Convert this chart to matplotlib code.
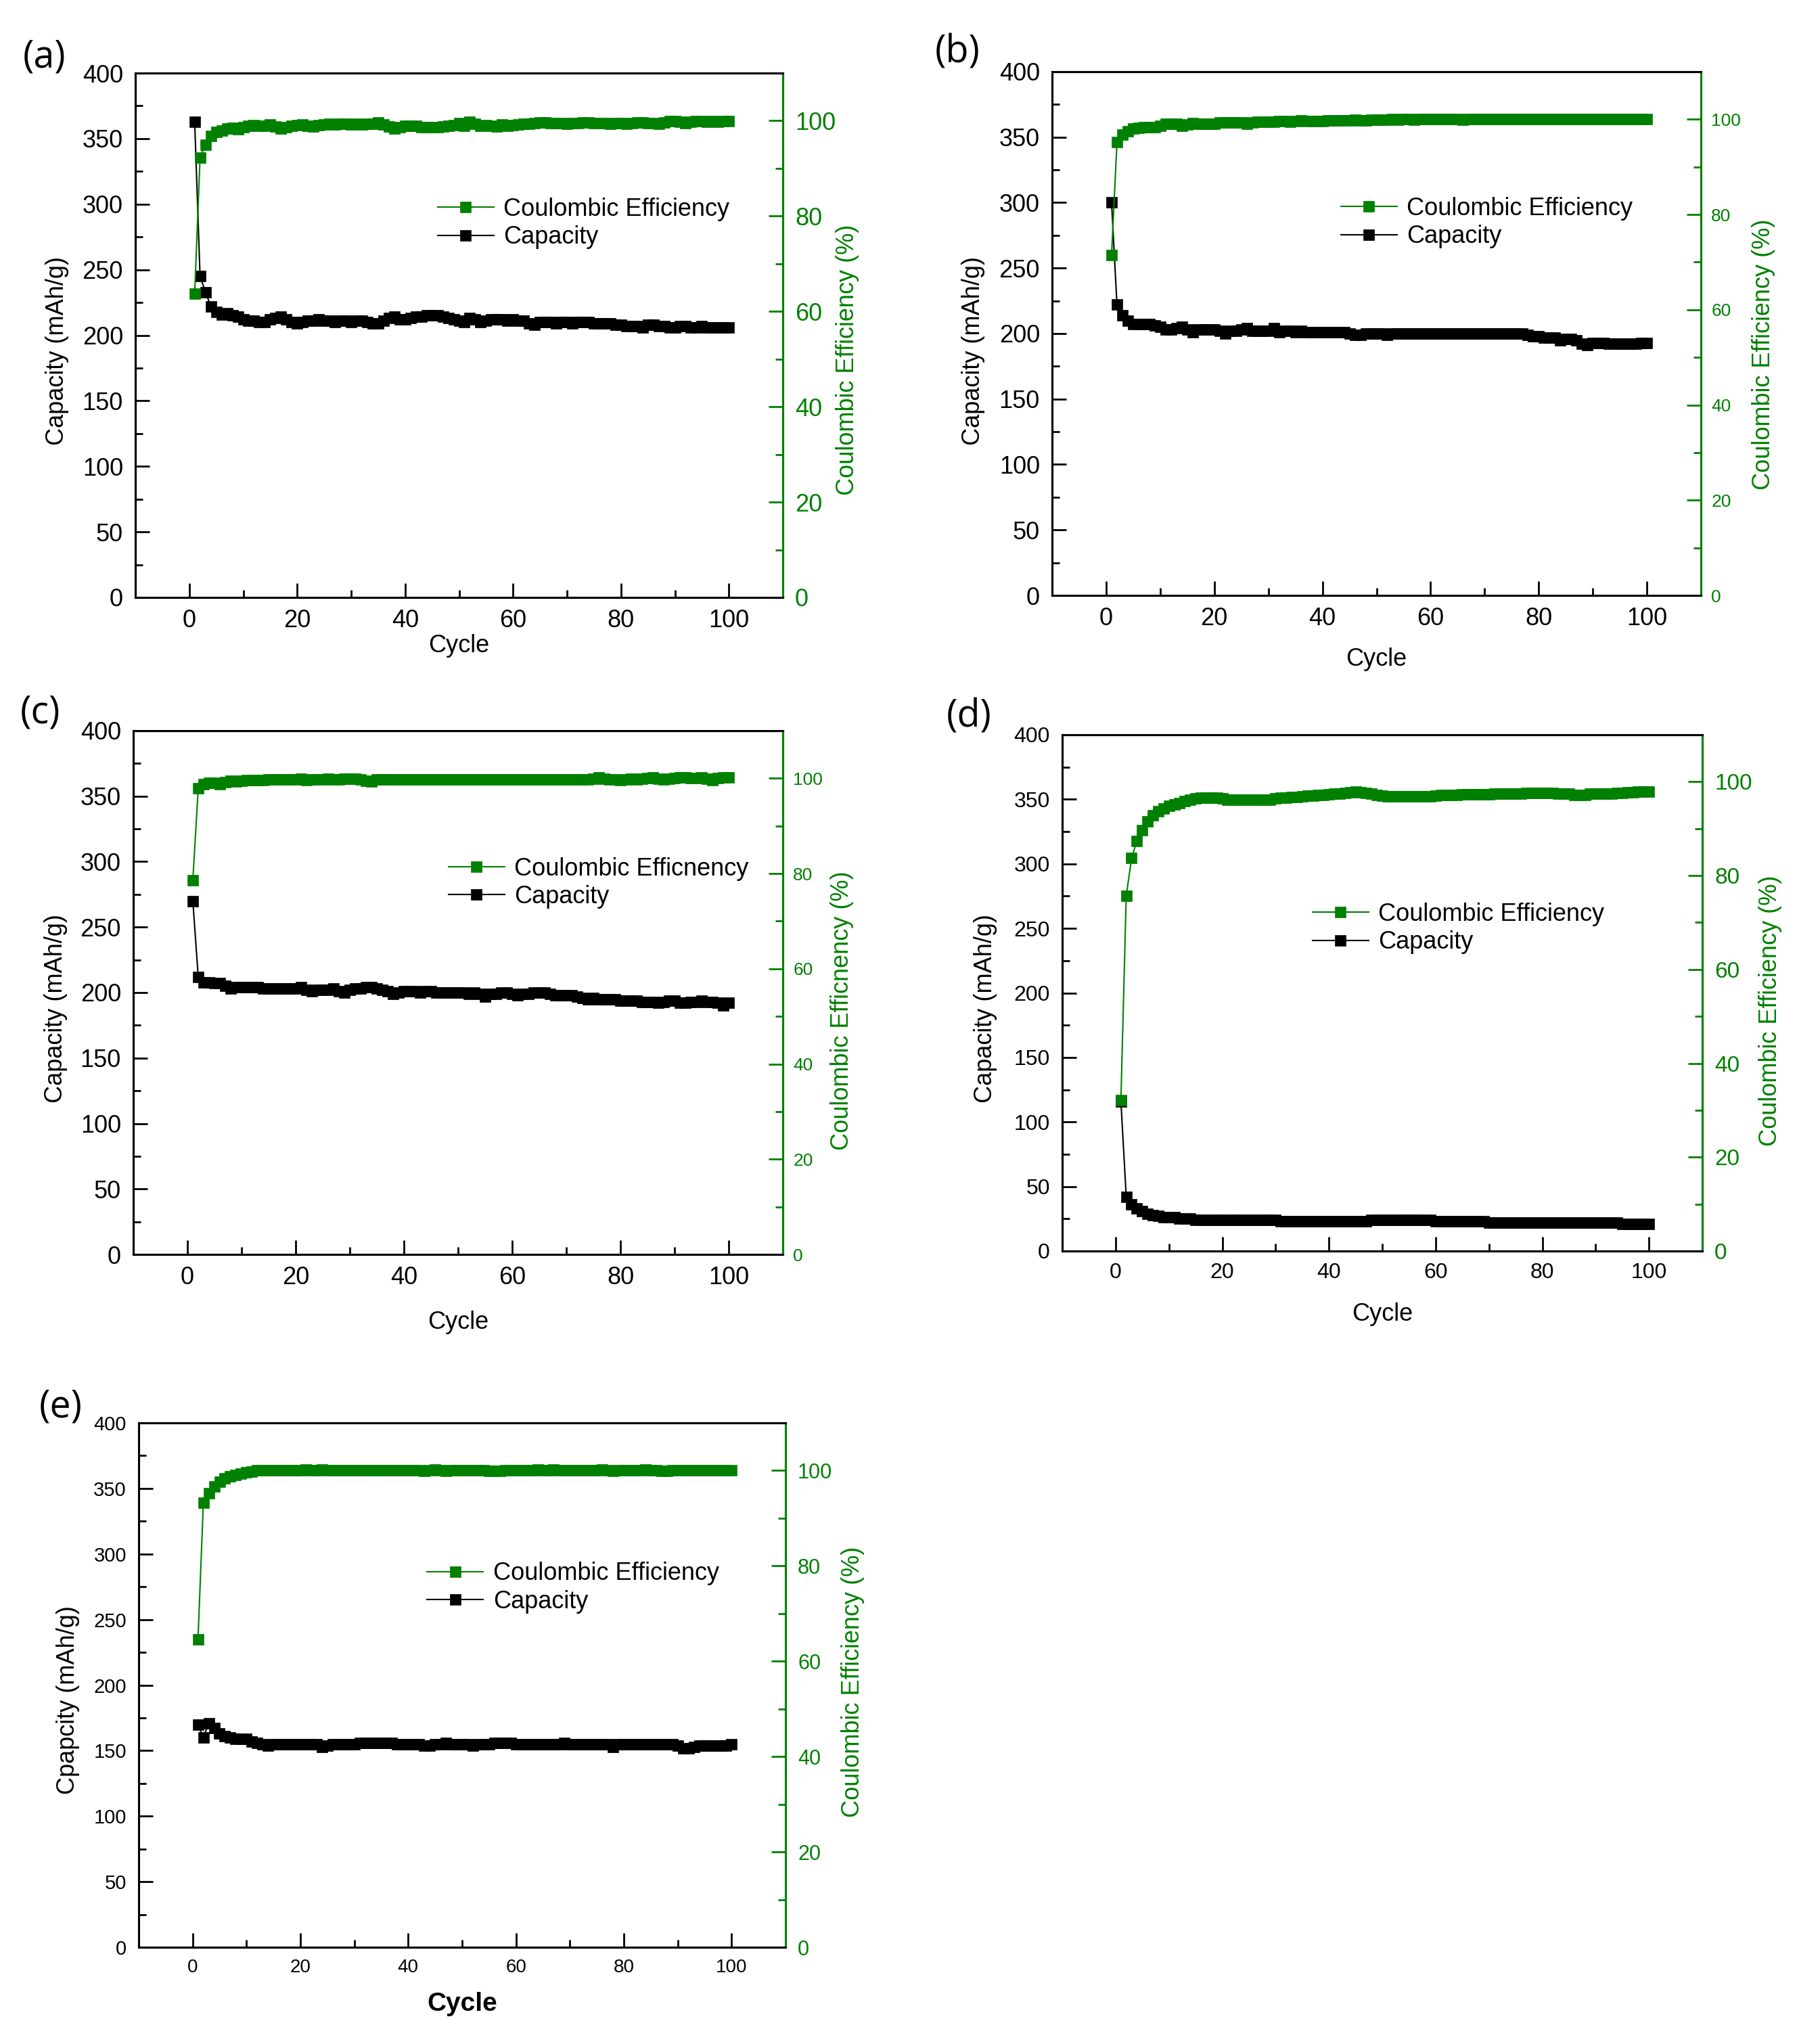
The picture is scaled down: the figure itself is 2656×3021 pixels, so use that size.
import matplotlib
matplotlib.use('Agg')
import matplotlib.pyplot as plt
from matplotlib.ticker import MultipleLocator

plt.rcParams['font.family'] = ['Liberation Sans', 'DejaVu Sans']

cycles = list(range(1, 101))

# (a)
cap_a = [363, 245, 233, 222, 218, 216, 217, 215, 214, 212,
         211, 211, 210, 210, 212, 213, 214, 212, 210, 209,
         210, 211, 211, 212, 211, 211, 210, 211, 211, 210,
         211, 211, 210, 209, 209, 211, 213, 214, 212, 212,
         213, 214, 214, 215, 215, 215, 214, 213, 212, 211,
         210, 213, 212, 210, 211, 212, 212, 212, 211, 212,
         211, 211, 209, 208, 210, 210, 210, 209, 210, 210,
         209, 210, 210, 210, 209, 209, 209, 209, 208, 208,
         207, 207, 207, 206, 208, 208, 207, 207, 206, 206,
         207, 207, 206, 206, 207, 206, 206, 206, 206, 206]
ce_a = [63.8, 92.3, 95.0, 96.8, 97.6, 98.0, 98.3, 98.5, 98.2, 98.6,
        98.9, 99.1, 99.0, 98.9, 99.2, 98.8, 98.4, 98.7, 99.0, 99.1,
        99.2, 99.0, 98.8, 99.1, 99.2, 99.3, 99.2, 99.3, 99.3, 99.2,
        99.3, 99.2, 99.3, 99.4, 99.6, 99.2, 98.8, 98.3, 98.7, 99.0,
        98.9, 98.9, 98.7, 98.6, 98.7, 98.6, 98.8, 98.9, 99.1, 99.5,
        99.0, 99.8, 99.3, 99.0, 99.1, 99.0, 98.8, 99.2, 99.0, 99.1,
        99.2, 99.3, 99.4, 99.5, 99.6, 99.6, 99.5, 99.5, 99.5, 99.4,
        99.5, 99.5, 99.6, 99.6, 99.5, 99.5, 99.5, 99.4, 99.5, 99.5,
        99.4, 99.5, 99.6, 99.6, 99.5, 99.5, 99.4, 99.7, 99.9, 99.9,
        99.8, 99.5, 99.8, 99.9, 99.9, 99.8, 99.9, 99.8, 99.9, 99.9]

# (b)
cap_b = [300, 222, 214, 210, 207, 207, 207, 207, 206, 205,
         203, 203, 204, 205, 203, 201, 203, 203, 203, 203,
         202, 200, 202, 202, 203, 204, 202, 202, 202, 202,
         204, 201, 202, 202, 201, 202, 201, 201, 201, 201,
         201, 201, 201, 201, 200, 199, 199, 200, 200, 200,
         200, 199, 200, 200, 200, 200, 200, 200, 200, 200,
         200, 200, 200, 200, 200, 200, 200, 200, 200, 200,
         200, 200, 200, 200, 200, 200, 200, 199, 198, 198,
         197, 197, 197, 195, 196, 196, 195, 192, 191, 193,
         193, 193, 192, 192, 192, 192, 192, 192, 193, 193]
ce_b = [71.5, 95.2, 96.8, 97.5, 98.0, 98.2, 98.3, 98.3, 98.4, 98.6,
        99.0, 99.1, 99.0, 98.7, 98.9, 99.2, 99.1, 99.0, 99.1, 99.1,
        99.3, 99.4, 99.4, 99.4, 99.3, 99.0, 99.4, 99.5, 99.5, 99.5,
        99.5, 99.6, 99.6, 99.5, 99.6, 99.8, 99.6, 99.6, 99.6, 99.6,
        99.8, 99.8, 99.7, 99.8, 99.8, 99.9, 99.8, 99.8, 99.9, 99.9,
        99.9, 99.9, 100.0, 99.9, 100.0, 100.0, 99.9, 100.0, 100.0, 100.0,
        100.0, 100.0, 100.0, 100.0, 100.0, 99.9, 100.0, 100.0, 100.0, 100.0,
        100.0, 100.0, 100.0, 100.0, 100.0, 100.0, 100.0, 100.0, 100.0, 100.0,
        100.0, 100.0, 100.0, 100.0, 100.0, 100.0, 100.0, 100.0, 100.0, 100.0,
        100.0, 100.0, 100.0, 100.0, 100.0, 100.0, 100.0, 100.0, 100.0, 100.0]

# (c)
cap_c = [270, 212, 208, 208, 207, 207, 205, 203, 204, 204,
         204, 204, 204, 203, 203, 203, 203, 203, 203, 203,
         204, 202, 201, 202, 202, 202, 203, 201, 200, 202,
         203, 203, 204, 204, 203, 202, 201, 199, 200, 201,
         201, 201, 200, 201, 201, 200, 200, 200, 200, 200,
         200, 199, 200, 199, 197, 199, 199, 200, 200, 199,
         198, 199, 199, 200, 200, 200, 199, 198, 198, 198,
         198, 197, 196, 195, 196, 195, 195, 195, 195, 194,
         194, 194, 194, 193, 193, 193, 192, 193, 194, 194,
         192, 192, 193, 193, 194, 193, 193, 192, 190, 192]
ce_c = [78.6, 97.9, 98.8, 99.1, 99.1, 98.8, 99.2, 99.5, 99.4, 99.5,
        99.6, 99.6, 99.6, 99.6, 99.7, 99.8, 99.8, 99.7, 99.8, 99.8,
        99.9, 99.6, 99.7, 99.8, 99.8, 99.9, 99.8, 99.8, 99.9, 99.9,
        99.9, 99.8, 99.5, 99.4, 99.7, 99.8, 99.8, 99.8, 99.8, 99.8,
        99.8, 99.8, 99.8, 99.8, 99.8, 99.8, 99.8, 99.8, 99.8, 99.8,
        99.8, 99.8, 99.8, 99.8, 99.8, 99.8, 99.8, 99.8, 99.8, 99.8,
        99.8, 99.8, 99.8, 99.8, 99.8, 99.8, 99.8, 99.8, 99.8, 99.8,
        99.8, 99.8, 99.8, 99.8, 99.9, 100.2, 99.9, 99.8, 99.7, 99.6,
        99.8, 99.9, 99.8, 99.9, 100.1, 100.2, 99.9, 99.8, 99.9, 100.0,
        100.2, 100.2, 100.1, 100.0, 100.2, 99.9, 99.6, 100.0, 100.2, 100.2]

# (d)
cap_d = [116, 42, 36, 33, 31, 29, 28, 27, 26, 26,
         26, 25, 25, 25, 24, 24, 24, 24, 24, 24,
         24, 24, 24, 24, 24, 24, 24, 24, 24, 24,
         23, 23, 23, 23, 23, 23, 23, 23, 23, 23,
         23, 23, 23, 23, 23, 23, 23, 24, 24, 24,
         24, 24, 24, 24, 24, 24, 24, 24, 24, 23,
         23, 23, 23, 23, 23, 23, 23, 23, 23, 22,
         22, 22, 22, 22, 22, 22, 22, 22, 22, 22,
         22, 22, 22, 22, 22, 22, 22, 22, 22, 22,
         22, 22, 22, 22, 21, 21, 21, 21, 21, 21]
ce_d = [32.1, 75.7, 83.7, 87.4, 89.7, 91.6, 92.8, 93.7, 94.3, 94.8,
        95.1, 95.5, 95.9, 96.2, 96.5, 96.6, 96.6, 96.6, 96.6, 96.5,
        96.2, 96.1, 96.1, 96.1, 96.1, 96.1, 96.1, 96.1, 96.2, 96.4,
        96.6, 96.6, 96.7, 96.8, 96.9, 97.0, 97.0, 97.1, 97.2, 97.3,
        97.4, 97.5, 97.6, 97.7, 97.9, 97.8, 97.6, 97.4, 97.2, 97.0,
        96.9, 96.9, 96.9, 96.9, 96.9, 96.9, 96.9, 96.9, 96.9, 97.0,
        97.1, 97.2, 97.2, 97.2, 97.3, 97.3, 97.3, 97.3, 97.3, 97.3,
        97.4, 97.4, 97.4, 97.4, 97.5, 97.5, 97.6, 97.6, 97.6, 97.6,
        97.6, 97.6, 97.5, 97.5, 97.4, 97.2, 97.1, 97.2, 97.4, 97.5,
        97.5, 97.5, 97.5, 97.6, 97.6, 97.7, 97.8, 97.9, 97.9, 97.9]

# (e)
cap_e = [170, 160, 171, 167, 163, 161, 160, 159, 159, 159,
         157, 156, 155, 154, 155, 155, 155, 155, 155, 155,
         155, 155, 155, 153, 154, 155, 155, 155, 155, 155,
         156, 156, 156, 156, 156, 156, 156, 155, 155, 155,
         155, 155, 154, 154, 155, 155, 156, 155, 155, 155,
         155, 154, 155, 155, 155, 156, 156, 156, 156, 155,
         155, 155, 155, 155, 155, 155, 155, 155, 156, 155,
         155, 155, 155, 155, 155, 155, 155, 153, 155, 155,
         155, 155, 155, 155, 155, 155, 155, 155, 155, 154,
         152, 152, 153, 154, 154, 154, 154, 154, 154, 155]
ce_e = [64.6, 93.3, 95.2, 96.7, 97.6, 98.3, 98.8, 99.1, 99.3, 99.6,
        99.8, 100.0, 100.0, 100.0, 100.0, 100.0, 100.0, 100.0, 100.0, 100.1,
        100.2, 100.1, 100.0, 100.2, 100.1, 100.0, 100.0, 100.0, 100.0, 100.0,
        100.0, 100.0, 100.0, 100.0, 100.0, 100.0, 100.0, 100.0, 100.0, 100.0,
        100.0, 100.0, 99.9, 100.0, 100.2, 100.1, 99.9, 100.0, 100.0, 100.0,
        100.0, 100.1, 100.0, 100.0, 99.9, 99.9, 99.9, 100.0, 100.0, 100.0,
        100.0, 100.1, 100.1, 100.2, 100.1, 100.0, 100.2, 100.1, 100.0, 100.0,
        100.0, 100.0, 100.0, 100.0, 100.1, 100.2, 100.0, 99.9, 100.1, 100.0,
        100.0, 100.0, 100.1, 100.2, 100.1, 100.0, 99.9, 99.9, 100.1, 100.0,
        100.0, 100.0, 100.0, 100.0, 100.0, 100.0, 100.0, 100.0, 100.0, 100.0]

W, H = 2656, 3021
GREEN = '#008000'

fig = plt.figure(figsize=(W / 100, H / 100), dpi=100)


def box(l, t, r, b):
    return [l / W, 1 - b / H, (r - l) / W, (b - t) / H]


def put(x, y, s, **kw):
    fig.text(x / W, 1 - y / H, s, ha='center', va='center', **kw)


def panel(rect, cap, ce, tl, tr, tx, leg, rpad=13, ce_name='Coulombic Efficiency'):
    ax = fig.add_axes(box(*rect))
    ax2 = ax.twinx()
    ln_cap, = ax.plot(cycles, cap, '-s', color='black', ms=11.5, lw=1.5, mew=0.5)
    ln_ce, = ax2.plot(cycles, ce, '-s', color=GREEN, ms=11.5, lw=1.5, mew=0.5)
    ax.set_xlim(-10, 110)
    ax.set_ylim(0, 400)
    ax2.set_ylim(0, 110)
    ax.xaxis.set_major_locator(MultipleLocator(20))
    ax.xaxis.set_minor_locator(MultipleLocator(10))
    ax.yaxis.set_major_locator(MultipleLocator(50))
    ax.yaxis.set_minor_locator(MultipleLocator(25))
    ax2.yaxis.set_major_locator(MultipleLocator(20))
    ax2.yaxis.set_minor_locator(MultipleLocator(10))
    ax.tick_params(which='both', direction='in', width=2, top=False, right=False)
    ax.tick_params(which='major', length=15)
    ax.tick_params(which='minor', length=8)
    ax.tick_params(axis='y', which='major', labelsize=tl, pad=13)
    ax.tick_params(axis='x', which='major', labelsize=tx, pad=12)
    ax2.tick_params(which='both', direction='in', width=2, colors=GREEN)
    ax2.tick_params(which='major', length=15, labelsize=tr, pad=rpad)
    ax2.tick_params(which='minor', length=8)
    for a in (ax, ax2):
        for s in a.spines.values():
            s.set_linewidth(2.2)
            s.set_color('black')
        a.spines['right'].set_color(GREEN)
    ax2.legend([ln_ce, ln_cap], [ce_name, 'Capacity'], loc='upper left',
               bbox_to_anchor=leg, frameon=False, fontsize=26, handlelength=2.3,
               handletextpad=0.4, labelspacing=0.18, borderpad=0, borderaxespad=0,
               numpoints=1)
    return ax


panel((200, 108, 1157, 883), cap_a, ce_a, 26, 26, 26, (0.467, 0.763))
panel((1555, 106, 2514, 880), cap_b, ce_b, 26, 19, 26, (0.445, 0.761), rpad=11)
panel((197, 1080, 1157, 1854), cap_c, ce_c, 26, 19, 26, (0.485, 0.759),
      rpad=11, ce_name='Coulombic Efficnency')
panel((1570, 1086, 2516, 1849), cap_d, ce_d, 23, 24, 23, (0.391, 0.675))
panel((205, 2103, 1161, 2878), cap_e, ce_e, 21, 22, 20, (0.446, 0.735))

# axis labels
lab = 26
put(85, 519, 'Capacity (mAh/g)', rotation=90, fontsize=lab)
put(1252, 532, 'Coulombic Efficiency (%)', rotation=90, fontsize=lab, color=GREEN)
put(678, 955, 'Cycle', fontsize=lab)

put(1438, 518, 'Capacity (mAh/g)', rotation=90, fontsize=lab)
put(2607, 524, 'Coulombic Efficiency (%)', rotation=90, fontsize=lab, color=GREEN)
put(2034, 975, 'Cycle', fontsize=lab)

put(82, 1490, 'Capacity (mAh/g)', rotation=90, fontsize=lab)
put(1244, 1494, 'Coulombic Efficnency (%)', rotation=90, fontsize=lab, color=GREEN)
put(677, 1955, 'Cycle', fontsize=lab)

put(1456, 1490, 'Capacity (mAh/g)', rotation=90, fontsize=lab)
put(2616, 1494, 'Coulombic Efficiency (%)', rotation=90, fontsize=lab, color=GREEN)
put(2043, 1943, 'Cycle', fontsize=lab)

put(100, 2513, 'Cpapcity (mAh/g)', rotation=90, fontsize=lab)
put(1261, 2486, 'Coulombic Efficiency (%)', rotation=90, fontsize=lab, color=GREEN)
put(683, 2962, 'Cycle', fontsize=28, fontweight='bold')

# panel letters
for x, y, s in [(66, 85, '(a)'), (1415, 78, '(b)'), (60, 1054, '(c)'),
                (1432, 1060, '(d)'), (90, 2080, '(e)')]:
    put(x, y, s, fontsize=40, family=['Open Sans', 'DejaVu Sans'])

fig.savefig('out.png', dpi=100)
